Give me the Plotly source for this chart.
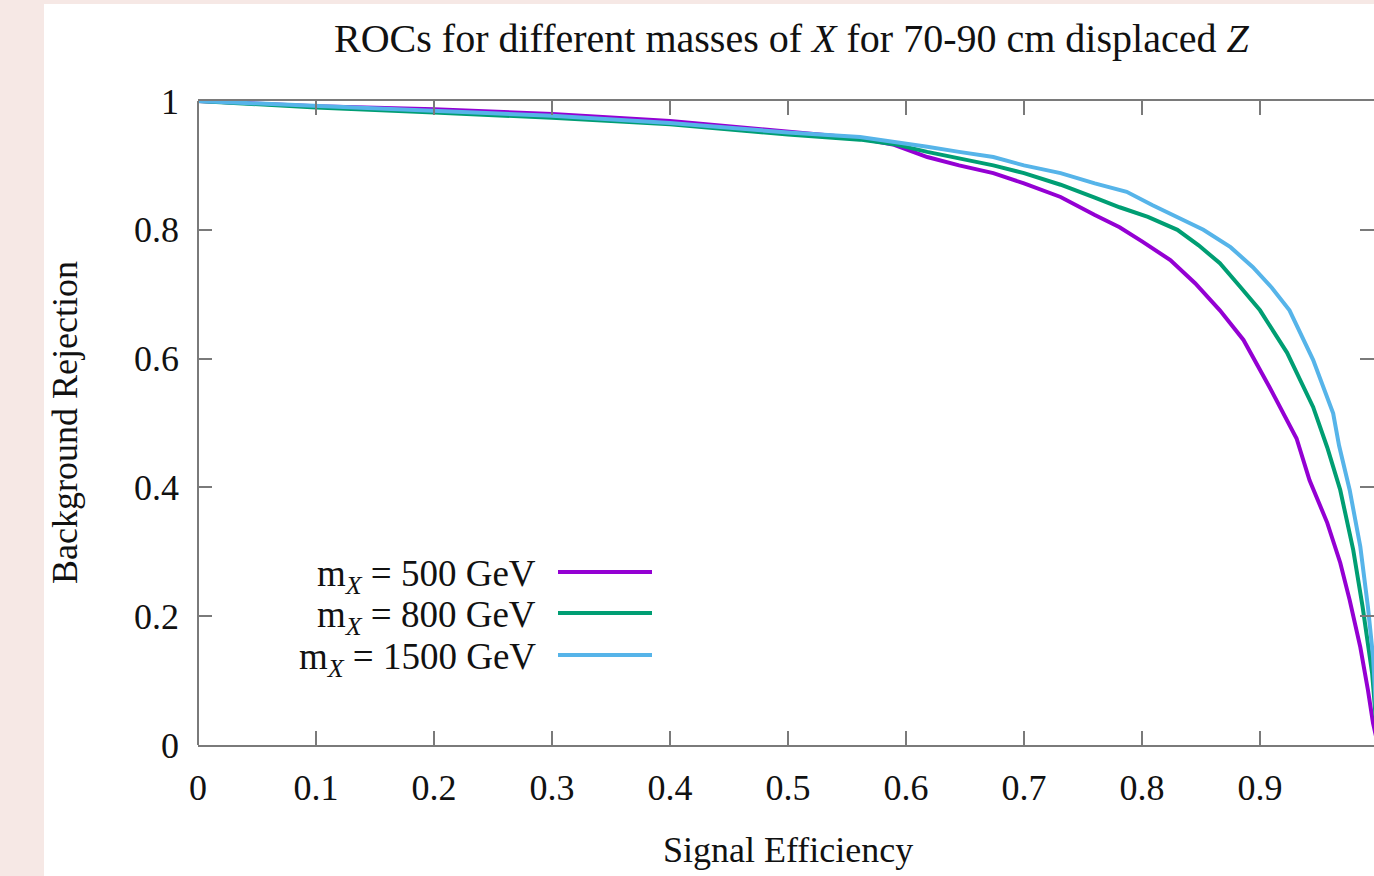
import plotly.graph_objects as go

# ---- data ----
x_500 = [0, 0.1, 0.2, 0.3, 0.4, 0.5, 0.561, 0.59, 0.618, 0.645, 0.674, 0.70, 0.731, 0.76, 0.781, 0.80,
         0.824, 0.845, 0.866, 0.886, 0.908, 0.931, 0.942, 0.957, 0.968, 0.976, 0.985, 0.9915, 0.9958, 1.0]
y_500 = [1.0, 0.992, 0.987, 0.98, 0.969, 0.953, 0.942, 0.932, 0.913, 0.90, 0.888, 0.872, 0.851, 0.823, 0.804, 0.782,
         0.753, 0.717, 0.675, 0.629, 0.556, 0.476, 0.411, 0.345, 0.283, 0.225, 0.152, 0.085, 0.034, 0.0]

x_800 = [0, 0.1, 0.2, 0.3, 0.4, 0.5, 0.561, 0.59, 0.618, 0.645, 0.674, 0.70, 0.731, 0.76, 0.781, 0.805,
         0.83, 0.848, 0.866, 0.883, 0.9, 0.923, 0.945, 0.957, 0.968, 0.979, 0.987, 0.995, 1.0]
y_800 = [1.0, 0.99, 0.982, 0.974, 0.964, 0.948, 0.94, 0.933, 0.921, 0.911, 0.90, 0.888, 0.87, 0.85, 0.835, 0.82,
         0.80, 0.776, 0.748, 0.712, 0.675, 0.609, 0.525, 0.462, 0.396, 0.303, 0.214, 0.112, 0.0]

x_1500 = [0, 0.1, 0.2, 0.3, 0.4, 0.5, 0.561, 0.59, 0.618, 0.645, 0.674, 0.70, 0.731, 0.76, 0.787, 0.809,
          0.852, 0.875, 0.894, 0.91, 0.925, 0.945, 0.962, 0.967, 0.976, 0.985, 0.9915, 0.9958, 1.0]
y_1500 = [1.0, 0.992, 0.985, 0.977, 0.966, 0.951, 0.944, 0.937, 0.929, 0.921, 0.913, 0.90, 0.888, 0.872, 0.859, 0.838,
          0.80, 0.773, 0.742, 0.71, 0.675, 0.598, 0.515, 0.465, 0.396, 0.308, 0.214, 0.137, 0.0]

series_labels = ["m<sub><i>X</i></sub> = 500 GeV", "m<sub><i>X</i></sub> = 800 GeV", "m<sub><i>X</i></sub> = 1500 GeV"]
series_colors = ["#9400d3", "#009e73", "#56b4e9"]

x_ticks = [0, 0.1, 0.2, 0.3, 0.4, 0.5, 0.6, 0.7, 0.8, 0.9]
x_ticklabels = ["0", "0.1", "0.2", "0.3", "0.4", "0.5", "0.6", "0.7", "0.8", "0.9"]
y_ticks = [0, 0.2, 0.4, 0.6, 0.8, 1]
y_ticklabels = ["0", "0.2", "0.4", "0.6", "0.8", "1"]

FONT = "Liberation Serif"
AX = "#7a7a7a"
TXT = "#111111"

fig = go.Figure()
for xs, ys, name, col in zip([x_500, x_800, x_1500], [y_500, y_800, y_1500], series_labels, series_colors):
    fig.add_trace(go.Scatter(x=xs, y=ys, mode="lines", name=name,
                             line=dict(color=col, width=4), showlegend=False))

# page layout geometry
W, H = 1374, 876
L, R, T, B = 198, 0, 101, 131
pw, ph = W - L - R, H - T - B

def fx(px):
    return (px - L) / pw

def fy(py):
    return (H - B - py) / ph

shapes = [
    # white panel over pink page
    dict(type="rect", xref="paper", yref="paper", x0=fx(44), x1=fx(W + 5), y0=fy(H + 5), y1=fy(4),
         fillcolor="white", line=dict(width=0), layer="below"),
    # left border
    dict(type="line", xref="x domain", yref="y domain", x0=0, x1=0, y0=0, y1=1,
         line=dict(color=AX, width=2)),
]
annotations = [
    dict(text="ROCs for different masses of <i>X</i> for 70-90 cm displaced <i>Z</i>",
         xref="paper", yref="paper", x=fx(791), y=fy(38), showarrow=False,
         xanchor="center", yanchor="middle", font=dict(family=FONT, size=40, color=TXT)),
    dict(text="Signal Efficiency", xref="paper", yref="paper", x=fx(788), y=fy(850), showarrow=False,
         xanchor="center", yanchor="middle", font=dict(family=FONT, size=36, color=TXT)),
    dict(text="Background Rejection", xref="paper", yref="paper", x=fx(65), y=fy(423), showarrow=False,
         textangle=-90, xanchor="center", yanchor="middle", font=dict(family=FONT, size=36, color=TXT)),
]
legend_y = [572, 613, 655]
for name, col, py in zip(series_labels, series_colors, legend_y):
    annotations.append(dict(text=name, xref="paper", yref="paper", x=fx(538), y=fy(py + 4), showarrow=False,
                            xanchor="right", yanchor="middle", font=dict(family=FONT, size=37, color=TXT)))
    shapes.append(dict(type="line", xref="paper", yref="paper", x0=fx(558), x1=fx(652), y0=fy(py), y1=fy(py),
                       line=dict(color=col, width=4)))

fig.update_layout(
    width=W, height=H, autosize=False,
    margin=dict(l=L, r=R, t=T, b=B, pad=0),
    paper_bgcolor="#f6e8e5", plot_bgcolor="white",
    font=dict(family=FONT, size=36, color=TXT),
    shapes=shapes, annotations=annotations,
    xaxis=dict(range=[0, pw / 1180], tickvals=x_ticks, ticktext=x_ticklabels,
               showgrid=False, zeroline=False, showline=True, linecolor=AX, linewidth=2,
               mirror="ticks", ticks="inside", ticklen=14, tickwidth=2, tickcolor=AX,
               ticklabelstandoff=10, tickfont=dict(family=FONT, size=36, color=TXT), fixedrange=True),
    yaxis=dict(range=[0, 1], tickvals=y_ticks, ticktext=y_ticklabels,
               showgrid=False, zeroline=False, showline=False,
               mirror="ticks", ticks="inside", ticklen=14, tickwidth=2, tickcolor=AX,
               ticklabelstandoff=18, tickfont=dict(family=FONT, size=36, color=TXT), fixedrange=True),
)

fig.write_html("out.html")
